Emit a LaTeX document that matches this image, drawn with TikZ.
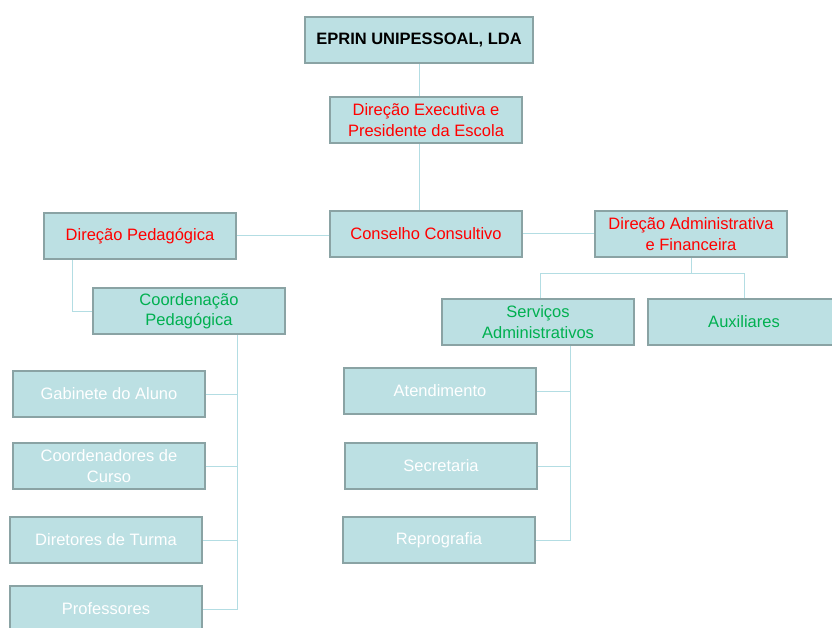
\documentclass[tikz,border=0pt]{standalone}
\usepackage{fontspec}
\setmainfont{Liberation Sans}
\usetikzlibrary{positioning}
\definecolor{boxfill}{HTML}{BCE0E3}
\definecolor{boxline}{HTML}{8AA3A4}
\definecolor{linkcol}{HTML}{B3DDE3}
\definecolor{redtxt}{HTML}{FF0000}
\definecolor{greentxt}{HTML}{00B050}

\begin{document}
\begin{tikzpicture}[x=1pt, y=-1pt,
	box/.style={draw=boxline, line width=2.4pt, fill=boxfill, minimum width=192pt, minimum height=46pt, inner sep=1pt, align=center, font=\fontsize{16.5}{20.5}\selectfont},
	top/.style={box, font=\bfseries\fontsize{16.5}{20.5}\selectfont, minimum width=228pt},
	head/.style={box, text=redtxt},
	sub/.style={box, text=greentxt},
	unit/.style={box, text=white},
	link/.style={draw=linkcol, line width=1pt}]
	\useasboundingbox (0,0) rectangle (832,628);
	\clip (0,0) rectangle (832,628);
	% top of the chart
	\node[top] (eprin) at (419,40) {EPRIN UNIPESSOAL, LDA};
	\node[head] (exec) at (426,120) {Direção Executiva e\\Presidente da Escola};
	\node[head] (conselho) at (426,234) {Conselho Consultivo};
	\node[head] (dirped) at (140,236) {Direção Pedagógica};
	\node[head] (diradm) at (691,234) {Direção Administrativa\\e Financeira};
	% second level
	\node[sub] (coordped) at (189,311) {Coordenação\\Pedagógica};
	\node[sub] (servicos) at (538,322) {Serviços\\Administrativos};
	\node[sub] (auxiliares) at (744,322) {Auxiliares};
	% units
	\node[unit] (gabinete) at (109,394) {Gabinete do Aluno};
	\node[unit] (coordcurso) at (109,466) {Coordenadores de\\Curso};
	\node[unit] (diretores) at (106,540) {Diretores de Turma};
	\node[unit] (professores) at (106,609) {Professores};
	\node[unit] (atendimento) at (440,391) {Atendimento};
	\node[unit] (secretaria) at (441,466) {Secretaria};
	\node[unit] (reprografia) at (439,540) {Reprografia};
	% links
	\draw[link] (eprin.south) -- (eprin.south |- exec.north);
	\draw[link] (eprin.south |- exec.south) -- (eprin.south |- conselho.north);
	\draw[link] (dirped.east) -- (dirped.east -| conselho.west);
	\draw[link] (conselho.east) -- (conselho.east -| diradm.west);
	\draw[link] ([xshift=-68pt]dirped.south) |- (coordped.west);
	\coordinate (admbus) at (691,273);
	\draw[link] (diradm.south) -- (admbus) -| ([xshift=2pt]servicos.north);
	\draw[link] (admbus) -| (auxiliares.north);
	\coordinate (pedtrunk) at ([xshift=48pt]coordped.south);
	\draw[link] (pedtrunk) |- (professores.east);
	\foreach \n in {gabinete, coordcurso, diretores}
		\draw[link] (\n.east) -- (\n.east -| pedtrunk);
	\coordinate (admtrunk) at ([xshift=32pt]servicos.south);
	\draw[link] (admtrunk) |- (reprografia.east);
	\foreach \n in {atendimento, secretaria}
		\draw[link] (\n.east) -- (\n.east -| admtrunk);
\end{tikzpicture}
\end{document}
